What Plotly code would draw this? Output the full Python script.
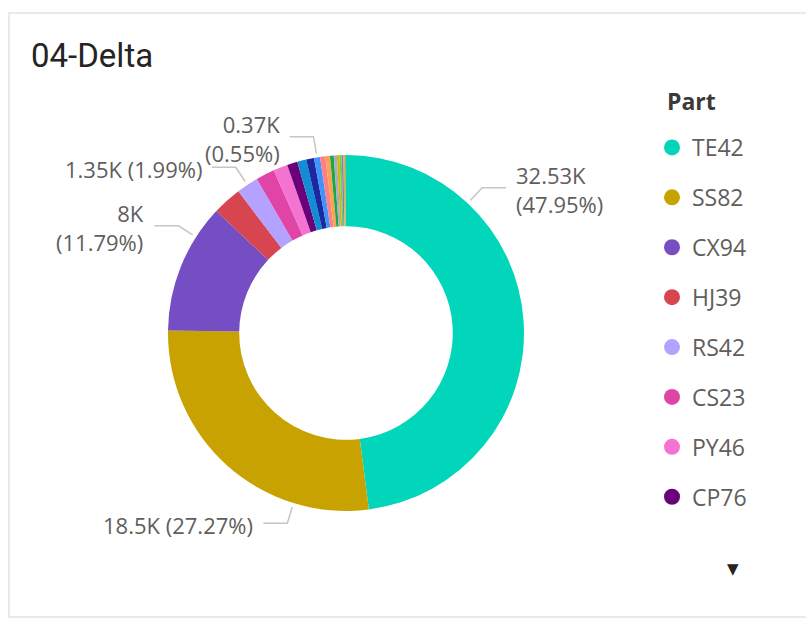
import math
import plotly.graph_objects as go

# ---------------- data ----------------
parts = ["TE42", "SS82", "CX94", "HJ39", "RS42", "CS23", "PY46", "CP76",
         "BX18", "KT57", "NM63", "DW29", "FL84", "GR11", "VP35", "ZQ72",
         "MA40", "LU66", "JE53", "HO27"]
values = [32530, 18500, 8000, 1800, 1350, 1150, 880, 640,
          560, 480, 370, 330, 280, 230, 190, 160,
          130, 110, 90, 65]
colors = ["#01D6BB", "#C8A200", "#744EC2", "#D64550", "#B5A1FF", "#E044A7", "#F472D0", "#6B007B",
          "#118DD6", "#1A2A9E", "#4092FF", "#FF8080", "#FFA058", "#1AAB40", "#A9A9C8", "#D9B300",
          "#5BD667", "#8D7FB0", "#FF9F40", "#7DC57D"]
legend_count = 8
title_text = "04-Delta"
legend_title = "Part"

# ---------------- layout constants ----------------
W, H = 806, 620
CX, CY, R = 346, 333, 178
HOLE = 0.6
TEXT_COLOR = "#605E5C"
LINE_COLOR = "#C8C6C4"
FONT = "Open Sans, Segoe UI, sans-serif"

# which slices get a data label, and where along the slice the leader starts
label_layout = {
    "TE42": dict(frac=0.25, lines=2),
    "SS82": dict(frac=0.25, lines=1),
    "CX94": dict(frac=0.75, lines=2),
    "RS42": dict(frac=0.5, lines=1),
    "NM63": dict(frac=0.5, lines=2),
}


def pxx(x):
    return x / W


def pxy(y):
    return 1 - y / H


total = sum(values)

fig = go.Figure()
fig.add_trace(go.Pie(
    labels=parts, values=values, hole=HOLE, sort=False, direction="clockwise",
    rotation=0, marker=dict(colors=colors, line=dict(width=0)),
    textinfo="none", showlegend=False,
    domain=dict(x=[pxx(CX - R), pxx(CX + R)], y=[pxy(CY + R), pxy(CY - R)]),
    hovertemplate="%{label}: %{value}<extra></extra>",
))

# legend entries (first visible items)
for i in range(legend_count):
    fig.add_trace(go.Scatter(
        x=[None], y=[None], mode="markers", name=parts[i], legendgroup=parts[i],
        marker=dict(color=colors[i], size=16), showlegend=True,
    ))


def fmt_k(v):
    s = f"{v / 1000:.2f}".rstrip("0").rstrip(".")
    return s + "K"


shapes = []
annotations = []
cum = 0.0
for name, v in zip(parts, values):
    start = cum
    cum += v / total
    if name not in label_layout:
        continue
    spec = label_layout[name]
    ang = 2 * math.pi * (start + spec["frac"] * (v / total))
    s, c = math.sin(ang), math.cos(ang)
    r1, r2 = R + 4, R + 21
    x1, y1 = CX + r1 * s, CY - r1 * c
    x2, y2 = CX + r2 * s, CY - r2 * c
    right = s > 0
    x3 = x2 + (24 if right else -24)
    shapes.append(dict(
        type="path", xref="paper", yref="paper",
        path=f"M {pxx(x1)},{pxy(y1)} L {pxx(x2)},{pxy(y2)} L {pxx(x3)},{pxy(y2)}",
        line=dict(color=LINE_COLOR, width=1.5),
    ))
    pct = f"({v / total * 100:.2f}%)"
    sep = "<br>" if spec["lines"] == 2 else " "
    annotations.append(dict(
        x=pxx(x3 + (8 if right else -8)), y=pxy(y2 + 2), xref="paper", yref="paper",
        text=fmt_k(v) + sep + pct, showarrow=False,
        xanchor="left" if right else "right", yanchor="middle",
        align="left" if right else "right",
        font=dict(family=FONT, size=22, color=TEXT_COLOR),
    ))

# card border
shapes.insert(0, dict(type="rect", xref="paper", yref="paper",
                      x0=pxx(9), x1=pxx(812), y0=pxy(617), y1=pxy(13),
                      line=dict(color="#E3E3E3", width=1.5), fillcolor="rgba(0,0,0,0)",
                      layer="below"))

# title
annotations.append(dict(x=pxx(29), y=pxy(55), xref="paper", yref="paper", text=title_text,
                        showarrow=False, xanchor="left", yanchor="middle",
                        font=dict(family="Roboto, sans-serif", size=33, color="#252423")))
# legend title
annotations.append(dict(x=pxx(665), y=pxy(101), xref="paper", yref="paper",
                        text="<b>" + legend_title + "</b>",
                        showarrow=False, xanchor="left", yanchor="middle",
                        font=dict(family=FONT, size=23, color="#3B3A39")))
# legend scroll arrow
annotations.append(dict(x=pxx(733), y=pxy(569), xref="paper", yref="paper", text="▼",
                        showarrow=False, xanchor="center", yanchor="middle",
                        font=dict(family="DejaVu Sans", size=15, color="#252423")))

fig.update_layout(
    width=W, height=H, margin=dict(l=0, r=0, t=0, b=0),
    paper_bgcolor="white", plot_bgcolor="white",
    xaxis=dict(visible=False), yaxis=dict(visible=False),
    shapes=shapes, annotations=annotations,
    legend=dict(x=pxx(652), y=pxy(126), xanchor="left", yanchor="top",
                font=dict(family=FONT, size=23, color=TEXT_COLOR),
                tracegroupgap=17, bgcolor="rgba(0,0,0,0)", itemclick=False),
    font=dict(family=FONT),
)

fig.write_html("out.html", config={"displayModeBar": False},
               post_script="document.body.style.margin='0px';")
